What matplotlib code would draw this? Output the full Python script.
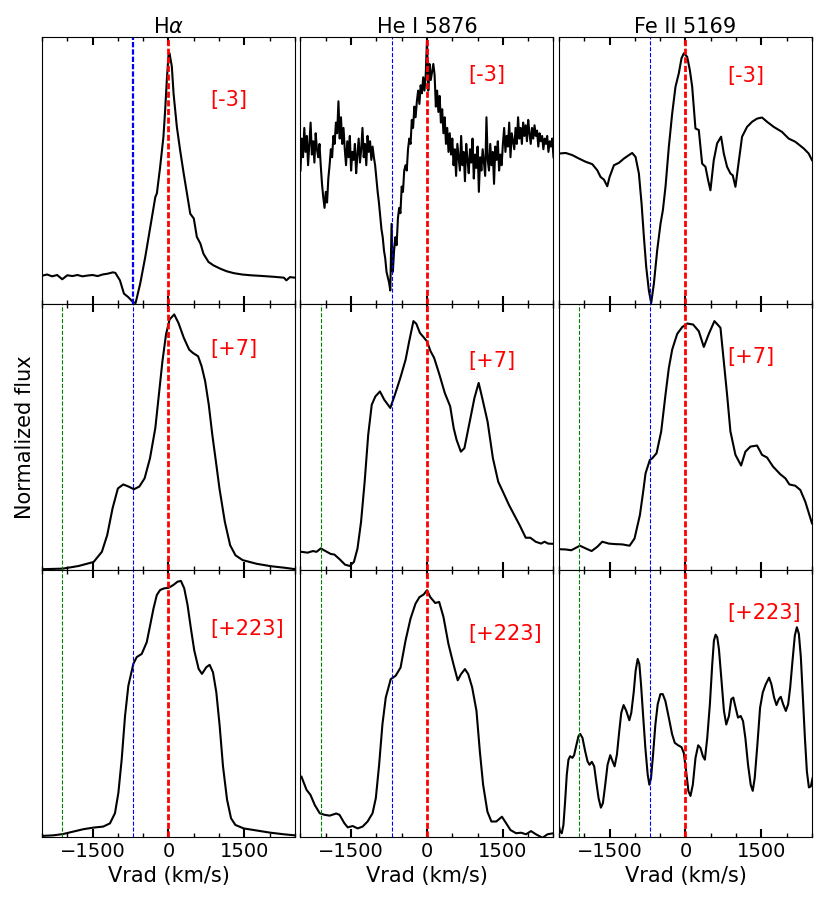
import matplotlib.pyplot as plt
import numpy as np
from matplotlib.ticker import MultipleLocator

# ---- spectra (flux scaled to each panel, 0..1) ----
# row 1, epoch [-3]
ha_top_v = [-2500, -2400, -2300, -2200, -2100, -2000, -1900, -1800, -1700, -1600, -1500,
            -1400, -1300, -1200, -1100, -1050, -960, -880, -795, -700, -650, -560, -460,
            -360, -260, -230, -165, -100, -66, -33, 0, 20, 66, 100, 165, 230, 300, 365,
            430, 500, 560, 630, 690, 790, 890, 1020, 1150, 1290, 1450, 1620, 1800, 1950,
            2100, 2280, 2330, 2400, 2500]
ha_top_f = [0.105, 0.110, 0.103, 0.108, 0.092, 0.107, 0.104, 0.108, 0.103, 0.106, 0.108,
            0.104, 0.110, 0.113, 0.118, 0.116, 0.088, 0.038, 0.025, 0.006, 0.003, 0.075,
            0.175, 0.288, 0.401, 0.414, 0.514, 0.627, 0.727, 0.840, 0.934, 0.940, 0.890,
            0.789, 0.664, 0.576, 0.489, 0.414, 0.338, 0.320, 0.251, 0.226, 0.188, 0.157,
            0.144, 0.132, 0.122, 0.115, 0.110, 0.107, 0.105, 0.103, 0.101, 0.098, 0.088,
            0.100, 0.098]

he_top_v = np.arange(-2500, 2501, 25)
he_top_f = [0.50, 0.62, 0.55, 0.66, 0.57, 0.63, 0.52, 0.60, 0.68, 0.56, 0.61, 0.53, 0.64, 0.58, 0.55, 0.60,
            0.52, 0.45, 0.40, 0.36, 0.42, 0.38, 0.47,
            0.52, 0.58, 0.55, 0.63, 0.60, 0.68, 0.64, 0.76, 0.62, 0.70, 0.60, 0.66,
            0.58, 0.52, 0.61, 0.55, 0.63, 0.50, 0.57, 0.54, 0.60, 0.49, 0.56, 0.62,
            0.53, 0.58, 0.66, 0.55, 0.60, 0.52, 0.63, 0.57, 0.61, 0.54, 0.59, 0.55,
            0.52, 0.47, 0.42, 0.38, 0.33, 0.28, 0.25, 0.20, 0.17, 0.12, 0.10, 0.08, 0.05, 0.30,
            0.12, 0.20, 0.25, 0.22, 0.32, 0.36, 0.34, 0.44, 0.42, 0.50, 0.52, 0.50, 0.58, 0.62,
            0.60, 0.69, 0.66, 0.74, 0.70, 0.76, 0.80, 0.75, 0.82, 0.79, 0.85, 0.80, 0.86,
            0.99, 0.80, 0.90, 0.84, 0.87, 0.90, 0.86, 0.74, 0.80, 0.72, 0.78, 0.68, 0.73,
            0.64, 0.70, 0.60, 0.66, 0.57, 0.64, 0.56,
            0.62, 0.52, 0.58, 0.48, 0.60, 0.55, 0.50, 0.63, 0.52, 0.57, 0.46, 0.60, 0.54,
            0.49, 0.58, 0.53, 0.62, 0.47, 0.56, 0.51, 0.59, 0.42, 0.55, 0.50, 0.58, 0.53,
            0.48, 0.70, 0.54, 0.50, 0.60, 0.52, 0.57, 0.45, 0.59, 0.54, 0.61, 0.50, 0.56, 0.52,
            0.60, 0.66, 0.57, 0.63, 0.59, 0.68, 0.55, 0.64, 0.61, 0.58, 0.66, 0.60, 0.70,
            0.62, 0.66, 0.60, 0.68, 0.63, 0.67, 0.61, 0.69, 0.64, 0.60, 0.66, 0.62, 0.67,
            0.63, 0.65, 0.59, 0.64, 0.61, 0.63, 0.58, 0.62, 0.60, 0.63, 0.57, 0.61, 0.59,
            0.62, 0.55]

fe_top_v = [-2487, -2368, -2237, -2105, -1974, -1842, -1743, -1678, -1612, -1546, -1500,
            -1414, -1316, -1217, -1118, -1053, -987, -921, -868, -822, -776, -724, -678,
            -625, -559, -493, -447, -395, -329, -263, -197, -132, -79, -33, 33, 86, 132,
            197, 263, 329, 395, 447, 493, 559, 625, 704, 757, 822, 888, 934, 987, 1039,
            1118, 1217, 1316, 1414, 1513, 1612, 1743, 1908, 2039, 2171, 2336, 2434, 2500]
fe_top_f = [0.564, 0.566, 0.558, 0.545, 0.533, 0.524, 0.501, 0.476, 0.466, 0.441, 0.476,
            0.520, 0.529, 0.545, 0.558, 0.566, 0.551, 0.489, 0.376, 0.251, 0.138, 0.050,
            0.003, 0.075, 0.201, 0.301, 0.351, 0.439, 0.589, 0.714, 0.815, 0.865, 0.921,
            0.940, 0.927, 0.877, 0.815, 0.658, 0.652, 0.526, 0.514, 0.464, 0.426, 0.539,
            0.602, 0.627, 0.564, 0.514, 0.489, 0.482, 0.439, 0.514, 0.627, 0.664, 0.683,
            0.695, 0.699, 0.683, 0.664, 0.645, 0.620, 0.608, 0.583, 0.564, 0.539]

# row 2, epoch [+7]
ha_mid_v = [-2480, -2090, -1775, -1480, -1317, -1211, -1106, -1000, -894, -789, -683, -577,
            -472, -366, -261, -190, -120, -49, 21, 113, 197, 303, 408, 479, 585, 655, 725,
            796, 866, 937, 1007, 1113, 1218, 1324, 1465, 1746, 2028, 2310, 2500]
ha_mid_f = [0.004, 0.006, 0.016, 0.031, 0.069, 0.132, 0.232, 0.307, 0.322, 0.314, 0.304,
            0.314, 0.345, 0.420, 0.533, 0.659, 0.784, 0.885, 0.941, 0.960, 0.928, 0.872,
            0.828, 0.816, 0.803, 0.765, 0.709, 0.621, 0.508, 0.408, 0.307, 0.182, 0.094,
            0.056, 0.038, 0.024, 0.015, 0.009, 0.004]

he_mid_v = [-2479, -2359, -2254, -2183, -2099, -2007, -1901, -1831, -1725, -1620, -1528,
            -1444, -1373, -1303, -1232, -1162, -1092, -1021, -930, -845, -725, -634, -528,
            -423, -352, -268, -211, -141, -70, 0, 70, 141, 246, 352, 458, 528, 585, 669,
            739, 845, 937, 1021, 1092, 1197, 1303, 1408, 1514, 1620, 1725, 1831, 1951,
            2042, 2148, 2254, 2324, 2394, 2500]
he_mid_f = [0.069, 0.066, 0.072, 0.069, 0.082, 0.072, 0.061, 0.059, 0.041, 0.021, 0.016,
            0.031, 0.082, 0.182, 0.332, 0.508, 0.621, 0.652, 0.671, 0.640, 0.609, 0.659,
            0.721, 0.790, 0.859, 0.935, 0.925, 0.891, 0.875, 0.859, 0.822, 0.797, 0.734,
            0.665, 0.615, 0.533, 0.489, 0.445, 0.458, 0.558, 0.646, 0.703, 0.646, 0.558,
            0.420, 0.332, 0.289, 0.245, 0.207, 0.169, 0.122, 0.122, 0.107, 0.100, 0.107,
            0.100, 0.099]

fe_mid_v = [-2500, -2368, -2257, -2086, -1974, -1855, -1743, -1645, -1513, -1382, -1250,
            -1105, -1007, -901, -836, -789, -704, -658, -572, -480, -395, -329, -263, -164,
            -66, 33, 151, 263, 362, 461, 572, 691, 757, 822, 888, 987, 1099, 1184, 1283,
            1414, 1513, 1612, 1730, 1875, 1974, 2053, 2171, 2270, 2368, 2500]
fe_mid_f = [0.079, 0.078, 0.075, 0.092, 0.082, 0.072, 0.088, 0.107, 0.100, 0.098, 0.097,
            0.092, 0.119, 0.207, 0.295, 0.364, 0.414, 0.420, 0.439, 0.521, 0.659, 0.759,
            0.828, 0.887, 0.912, 0.926, 0.922, 0.897, 0.838, 0.887, 0.935, 0.910, 0.784,
            0.659, 0.521, 0.433, 0.393, 0.445, 0.464, 0.468, 0.433, 0.423, 0.389, 0.360,
            0.345, 0.322, 0.317, 0.301, 0.257, 0.176]

# row 3, epoch [+223]
ha_bot_v = [-2492, -2280, -2082, -1884, -1685, -1487, -1289, -1157, -1058, -991, -925, -859,
            -793, -694, -628, -529, -430, -363, -297, -231, -165, -86, 0, 99, 178, 245,
            311, 377, 443, 509, 595, 661, 747, 813, 879, 945, 1011, 1077, 1157, 1236, 1322,
            1487, 1751, 2015, 2280, 2500]
ha_bot_f = [0.003, 0.005, 0.010, 0.019, 0.028, 0.034, 0.038, 0.050, 0.088, 0.164, 0.290,
            0.453, 0.567, 0.649, 0.674, 0.686, 0.730, 0.793, 0.856, 0.907, 0.926, 0.932,
            0.934, 0.945, 0.957, 0.960, 0.932, 0.869, 0.781, 0.699, 0.630, 0.611, 0.636,
            0.645, 0.617, 0.542, 0.416, 0.264, 0.139, 0.069, 0.044, 0.031, 0.023, 0.015,
            0.009, 0.005]

he_bot_v = [-2480, -2381, -2303, -2218, -2120, -2022, -1924, -1794, -1729, -1631, -1566,
            -1468, -1370, -1272, -1174, -1076, -1011, -946, -881, -815, -717, -620, -522,
            -424, -326, -228, -150, -65, 0, 65, 163, 241, 326, 424, 522, 607, 672, 750, 815,
            893, 978, 1044, 1109, 1194, 1272, 1370, 1481, 1566, 1650, 1761, 1859, 1957,
            2055, 2153, 2283, 2381, 2500]
he_bot_f = [0.225, 0.176, 0.157, 0.119, 0.088, 0.082, 0.079, 0.087, 0.082, 0.050, 0.035,
            0.040, 0.031, 0.038, 0.057, 0.088, 0.145, 0.270, 0.421, 0.522, 0.591, 0.604,
            0.635, 0.736, 0.818, 0.874, 0.899, 0.909, 0.925, 0.899, 0.877, 0.881, 0.824,
            0.723, 0.648, 0.587, 0.610, 0.629, 0.610, 0.560, 0.472, 0.321, 0.195, 0.094,
            0.057, 0.057, 0.075, 0.050, 0.025, 0.013, 0.015, 0.009, 0.021, 0.009, -0.004,
            0.009, 0.013]

fe_bot_v = [-2511, -2478, -2445, -2412, -2379, -2346, -2313, -2280, -2234, -2201, -2161,
            -2115, -2082, -2036, -1983, -1936, -1897, -1850, -1804, -1765, -1718, -1672,
            -1632, -1586, -1540, -1487, -1441, -1401, -1355, -1309, -1269, -1223, -1170,
            -1110, -1071, -1024, -985, -945, -912, -879, -839, -793, -747, -714, -681, -641,
            -595, -549, -496, -449, -397, -330, -264, -211, -145, -79, -33, 13, 59, 99, 145,
            198, 251, 297, 344, 383, 430, 482, 529, 562, 595, 628, 661, 707, 760, 806, 859,
            905, 945, 991, 1038, 1091, 1137, 1183, 1236, 1289, 1329, 1368, 1421, 1474, 1527,
            1586, 1652, 1698, 1751, 1798, 1844, 1884, 1930, 1983, 2029, 2069, 2115, 2161,
            2201, 2241, 2280, 2320, 2360, 2399, 2439, 2478, 2511]
fe_bot_f = [0.050, 0.019, 0.013, 0.044, 0.132, 0.233, 0.289, 0.302, 0.296, 0.306, 0.340,
            0.377, 0.386, 0.371, 0.321, 0.283, 0.270, 0.281, 0.264, 0.208, 0.145, 0.109,
            0.126, 0.195, 0.270, 0.306, 0.283, 0.264, 0.308, 0.396, 0.465, 0.494, 0.472,
            0.437, 0.465, 0.541, 0.623, 0.667, 0.648, 0.572, 0.459, 0.333, 0.233, 0.195,
            0.220, 0.308, 0.421, 0.497, 0.535, 0.535, 0.509, 0.447, 0.384, 0.352, 0.343,
            0.336, 0.314, 0.245, 0.170, 0.153, 0.195, 0.296, 0.343, 0.333, 0.302, 0.289,
            0.371, 0.497, 0.648, 0.736, 0.758, 0.748, 0.704, 0.597, 0.472, 0.421, 0.453,
            0.516, 0.522, 0.484, 0.447, 0.453, 0.434, 0.371, 0.270, 0.195, 0.172, 0.220,
            0.346, 0.484, 0.541, 0.572, 0.597, 0.572, 0.522, 0.494, 0.516, 0.525, 0.497,
            0.472, 0.497, 0.560, 0.660, 0.755, 0.786, 0.761, 0.673, 0.522, 0.371, 0.245,
            0.185, 0.189, 0.220]

lines = ['H$\\alpha$', 'He I 5876', 'Fe II 5169']
epochs = ['[-3]', '[+7]', '[+223]']
spectra = [[(ha_top_v, ha_top_f), (he_top_v, he_top_f), (fe_top_v, fe_top_f)],
           [(ha_mid_v, ha_mid_f), (he_mid_v, he_mid_f), (fe_mid_v, fe_mid_f)],
           [(ha_bot_v, ha_bot_f), (he_bot_v, he_bot_f), (fe_bot_v, fe_bot_f)]]
# where the epoch label sits (axes fraction, vertical centre)
label_y = [[0.764, 0.857, 0.854],
           [0.830, 0.786, 0.800],
           [0.781, 0.759, 0.840]]

v_red = 0
v_blue = -700
v_green = -2100

fig, axes = plt.subplots(3, 3, figsize=(8.3, 9.06), dpi=100, sharex=True)
plt.subplots_adjust(left=0.0506, right=0.9783, top=0.9588, bottom=0.0765,
                    wspace=0.0217, hspace=0)

for i in range(3):
    for j in range(3):
        ax = axes[i, j]
        v, f = spectra[i][j]
        ax.plot(v, f, color='black', lw=1.5)
        if i > 0:
            ax.axvline(v_green, color='green', ls='--', lw=0.8)
        if i == 0 and j == 0:
            ax.axvline(v_blue, color='blue', lw=1.6, dashes=(2.4, 0.9))
        else:
            ax.axvline(v_blue, color='blue', ls='--', lw=0.8)
        ax.axvline(v_red, color='red', lw=2, dashes=(2.2, 0.9))
        ax.text(0.664, label_y[i][j], epochs[i], color='red', fontsize=15,
                ha='left', va='center', transform=ax.transAxes)
        ax.set_xlim(-2500, 2500)
        ax.set_ylim(0, 1)
        ax.set_yticks([])
        ax.xaxis.set_major_locator(MultipleLocator(1500))
        ax.xaxis.set_minor_locator(MultipleLocator(500))
        ax.tick_params(axis='x', which='both', direction='in', top=True, bottom=True,
                       labelsize=14)
        ax.tick_params(axis='x', which='major', length=6, width=1.5)
        ax.tick_params(axis='x', which='minor', length=3, width=1)
        if i == 0:
            ax.set_title(lines[j], fontsize=15, pad=3)
        if i == 2:
            ax.set_xlabel('Vrad (km/s)', fontsize=15)

axes[1, 0].set_ylabel('Normalized flux', fontsize=15, labelpad=5)

plt.savefig('out.png')
